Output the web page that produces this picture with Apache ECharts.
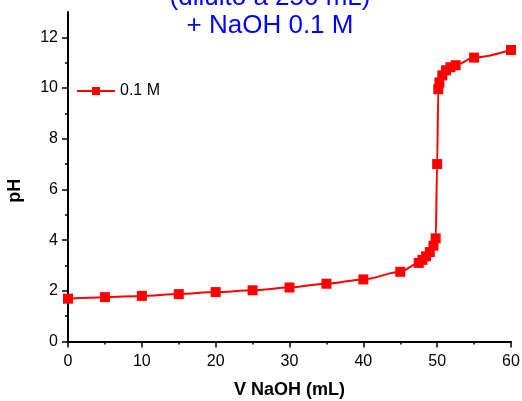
<!DOCTYPE html>
<html><head><meta charset="utf-8">
<script src="https://cdn.jsdelivr.net/npm/echarts@6/dist/echarts.min.js"></script>
<style>html,body{margin:0;padding:0;background:#fff}#c{width:522px;height:401px}</style>
</head><body><div id="c"></div>
<script>
var volumes = [0,5,10,15,20,25,30,35,40,45,47.5,48,48.5,49,49.5,49.8,50,50.15,50.3,50.7,51.2,51.8,52.5,55,60];
var phValues = [1.69,1.75,1.80,1.87,1.95,2.02,2.13,2.28,2.45,2.75,3.10,3.22,3.36,3.53,3.78,4.07,7.0,9.95,10.22,10.5,10.7,10.82,10.9,11.2,11.5];
var yMajorTicks = [0,2,4,6,8,10,12];
var yMinorTicks = [1,3,5,7,9,11];
var seriesName = '0.1 M';
var titleText = '(diluito a 250 mL)\n+ NaOH 0.1 M';

var font = 'Liberation Sans, Arial, sans-serif';
var chart = echarts.init(document.getElementById('c'), null, {renderer:'canvas'});
var pts = volumes.map(function(v,i){return [v, phValues[i]];});
chart.setOption({
  animation:false,
  backgroundColor:'#fff',
  title:{text:titleText,left:265,textAlign:'center',top:-21,
    textStyle:{color:'#0000ff',fontSize:26,fontWeight:'normal',fontFamily:font,lineHeight:28}},
  legend:{left:76,top:83,padding:0,itemWidth:38,itemHeight:10,itemGap:5,
    textStyle:{fontSize:16,fontFamily:font,color:'#000'},data:[seriesName]},
  grid:{left:68,right:11,top:12,bottom:59.5,containLabel:false,outerBoundsMode:'none'},
  xAxis:{type:'value',min:0,max:60,interval:10,
    name:'V NaOH (mL)',nameLocation:'middle',nameGap:40,
    nameTextStyle:{fontSize:18,fontWeight:'bold',fontFamily:font,color:'#000'},
    axisLine:{lineStyle:{color:'#000',width:2}},
    axisTick:{inside:false,length:6,lineStyle:{color:'#000',width:1.5}},
    minorTick:{show:true,splitNumber:2,length:3,lineStyle:{color:'#000',width:1.5}},
    axisLabel:{fontSize:16,fontFamily:font,color:'#000',margin:12},
    splitLine:{show:false}},
  yAxis:[{type:'value',min:0,max:13,
    name:'pH',nameLocation:'middle',nameGap:44,nameRotate:90,
    nameTextStyle:{fontSize:18,fontWeight:'bold',fontFamily:font,color:'#000',padding:[0,28,0,0]},
    axisLine:{onZero:false,lineStyle:{color:'#000',width:2}},
    axisTick:{length:6,customValues:yMajorTicks,lineStyle:{color:'#000',width:1.5}},
    axisLabel:{fontSize:16,fontFamily:font,color:'#000',margin:10,customValues:yMajorTicks},
    splitLine:{show:false}},
   {type:'value',min:0,max:13,position:'left',
    axisLine:{show:false},
    axisTick:{length:3,customValues:yMinorTicks,lineStyle:{color:'#000',width:1.5}},
    axisLabel:{show:false},splitLine:{show:false}}],
  series:[{name:seriesName,type:'line',yAxisIndex:0,data:pts,
    smooth:0.3,smoothMonotone:'x',
    symbol:'rect',symbolSize:10,
    lineStyle:{color:'#ff0000',width:2},
    itemStyle:{color:'#ff0000'}}]
});
</script></body></html>
